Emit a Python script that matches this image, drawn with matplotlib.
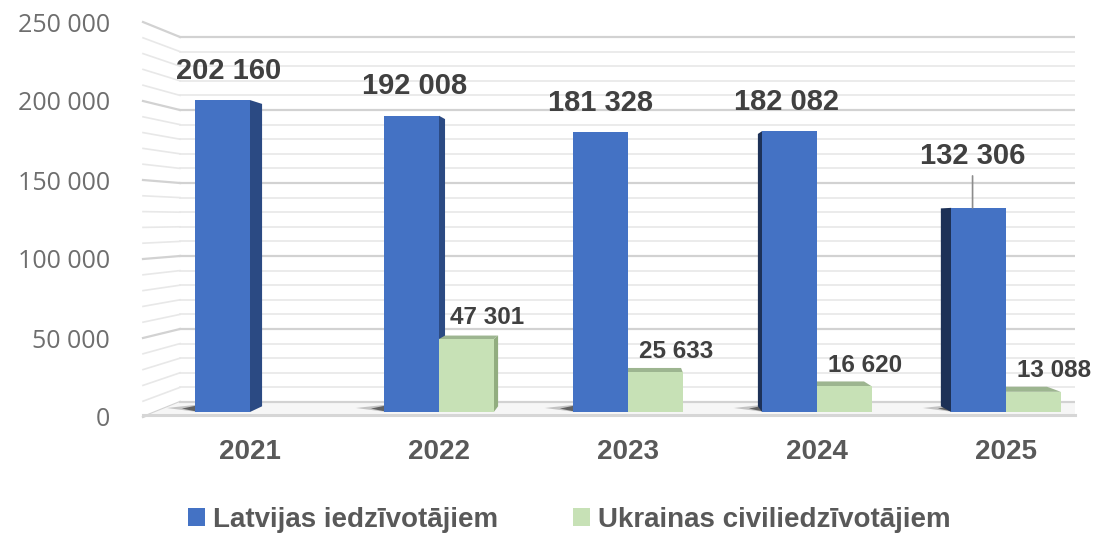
import matplotlib

matplotlib.use("Agg")
import matplotlib.pyplot as plt  # noqa: E402
from matplotlib.patches import Polygon  # noqa: E402

# --- data -------------------------------------------------------------
years = ["2021", "2022", "2023", "2024", "2025"]
latvia = [202160, 192008, 181328, 182082, 132306]
ukraine = [0, 47301, 25633, 16620, 13088]  # 2021: no bar
series_names = ["Latvijas iedzīvotājiem", "Ukrainas civiliedzīvotājiem"]
y_ticks = [0, 50000, 100000, 150000, 200000, 250000]

BLUE = "#4472C4"
BLUE_SIDE_R = "#2B4A83"
BLUE_SIDE_L = "#1D3157"
GREEN = "#C7E1B6"
GREEN_SIDE = "#92AD80"
GREEN_TOP = "#9DB590"
LABEL_C = "#404040"
AXIS_C = "#595959"

W, H = 1099, 536
L, R, B, T = 143, 1075, 417, 22  # plot box in pixels


def fmt(v):
    return f"{v:,}".replace(",", " ")


fig = plt.figure(figsize=(W / 100, H / 100), dpi=100)
rect = [L / W, 1 - B / H, (R - L) / W, (B - T) / H]

# back layer: tick labels, back wall grid, side wall, floor
ax_lab = fig.add_axes(rect, zorder=0)
ax_lab.set_xlim(0, 1)
ax_lab.set_ylim(0, 250000)
ax_lab.set_yticks(y_ticks)
ax_lab.set_yticklabels([fmt(v) for v in y_ticks], fontsize=18,
                       color="#6e6e6e", family="Open Sans")
ax_lab.tick_params(axis="y", length=0, pad=24)
ax_lab.set_xticks([])
for s in ax_lab.spines.values():
    s.set_visible(False)

# back wall has its own (slightly compressed) scale
ax_wall = fig.add_axes(rect, zorder=0, sharex=ax_lab)
ax_wall.set_ylim(-10274, 260274)
ax_wall.axis("off")
wall_x0 = 37 / (R - L)
for v in range(0, 250001, 10000):
    major = v % 50000 == 0
    col = "#d2d2d2" if major else "#e8e8e8"
    lw = 1.6 if major else 1.2
    ax_wall.axhline(v, xmin=wall_x0, xmax=1, color=col, lw=lw, zorder=1)
    y0 = ax_lab.transLimits.transform((0, v))[1]
    y1 = ax_wall.transLimits.transform((0, v))[1]
    ax_lab.plot([0, wall_x0], [y0, y1], transform=ax_lab.transAxes,
                color=col, lw=lw, zorder=1, clip_on=False)

floor_back = ax_wall.transLimits.transform((0, 0))[1]
ax_lab.add_patch(Polygon([(0, 0), (wall_x0, floor_back), (1, floor_back), (1, 0)],
                         closed=True, transform=ax_lab.transAxes,
                         facecolor="#f6f6f6", edgecolor="none", zorder=1))
ax_lab.plot([0, 1], [0.004, 0.004], transform=ax_lab.transAxes,
            color="#d6d6d6", lw=2.2, zorder=2, clip_on=False)

# front layer: bars
ax = fig.add_axes(rect, zorder=1)
ax.patch.set_alpha(0)
ax.set_xlim(-0.566, 4.365)
ax.set_ylim(-3240, 252754)
for s in ax.spines.values():
    s.set_visible(False)
ax.set_yticks([])
x = list(range(len(years)))
ax.set_xticks(x)
ax.set_xticklabels(years, fontsize=20, fontweight="bold", color=AXIS_C,
                   family="Liberation Sans")
ax.tick_params(axis="x", length=0, pad=16)

bw = 0.29
kx = 0.032  # horizontal perspective toward the middle category


def back(xx, v):
    return xx + kx * (2.0 - xx), v + 3694 - 0.0306 * v


def draw_3d(x0, x1, v, side_r, side_l, top):
    bx0, bv = back(x0, v)
    bx1, _ = back(x1, v)
    _, b0 = back(x0, 0)
    if bx1 > x1:  # right side visible
        ax.add_patch(Polygon([(x1, 0), (x1, v), (bx1, bv), (bx1, b0)],
                             facecolor=side_r, edgecolor="none", zorder=2))
    if bx0 < x0:  # left side visible
        ax.add_patch(Polygon([(x0, 0), (x0, v), (bx0, bv), (bx0, b0)],
                             facecolor=side_l, edgecolor="none", zorder=2))
    if bv > v:  # top visible
        ax.add_patch(Polygon([(x0, v), (x1, v), (bx1, bv), (bx0, bv)],
                             facecolor=top, edgecolor="none", zorder=2))


for i in x:
    xl = i - bw
    # floor shadow left of the blue bar (soft tail + dark core)
    ax.add_patch(Polygon([(xl - 0.15, 2600), (xl, 4600), (xl, 200)],
                         facecolor="#9a9a9a", alpha=0.55, edgecolor="none", zorder=1.5))
    ax.add_patch(Polygon([(xl - 0.07, 2200), (xl, 4000), (xl, 500)],
                         facecolor="#4a4a4a", alpha=0.8, edgecolor="none", zorder=1.6))
    draw_3d(i - bw, i, latvia[i], BLUE_SIDE_R, BLUE_SIDE_L, BLUE)
    if ukraine[i]:
        draw_3d(i, i + bw, ukraine[i], GREEN_SIDE, GREEN_SIDE, GREEN_TOP)

ax.bar([i - bw / 2 for i in x], latvia, bw, color=BLUE, zorder=3,
       label=series_names[0])
ukr_x = [i + bw / 2 for i in x if ukraine[i]]
ukr_v = [v for v in ukraine if v]
ax.bar(ukr_x, ukr_v, bw, color=GREEN, zorder=3, label=series_names[1])

# data labels
for i, v in enumerate(latvia):
    cx = i - bw / 2 + kx * (2.0 - i) / 2
    if i == len(latvia) - 1:
        ax.annotate(fmt(v), xy=(cx, v), xytext=(0, 27), textcoords="offset points",
                    ha="center", va="bottom", fontsize=21, fontweight="bold",
                    color=LABEL_C, family="Liberation Sans", zorder=5,
                    arrowprops=dict(arrowstyle="-", color="#8c8c8c", lw=1.2,
                                    shrinkA=2, shrinkB=0))
    else:
        ax.annotate(fmt(v), xy=(cx, v), xytext=(0, 11), textcoords="offset points",
                    ha="center", va="bottom", fontsize=21, fontweight="bold",
                    color=LABEL_C, family="Liberation Sans", zorder=5)
for xx, v in zip(ukr_x, ukr_v):
    ax.annotate(fmt(v), xy=(xx, v), xytext=(15, 7), textcoords="offset points",
                ha="center", va="bottom", fontsize=17.5, fontweight="bold",
                color=LABEL_C, family="Liberation Sans", zorder=5)

leg = fig.legend(loc="center", bbox_to_anchor=(0.518, 0.03), ncol=2, frameon=False,
                 handlelength=0.6, handleheight=0.6, handletextpad=0.3,
                 columnspacing=2.7,
                 prop=dict(family="Liberation Sans", weight="bold", size=20))
for t in leg.get_texts():
    t.set_color(AXIS_C)

fig.savefig("out.png", dpi=100)
